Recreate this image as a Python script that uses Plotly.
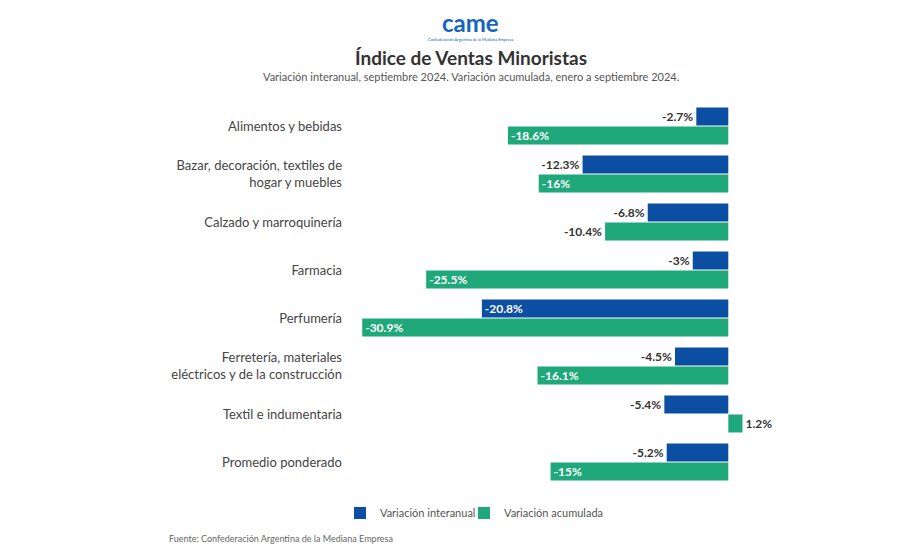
import plotly.graph_objects as go

categories = [
    "Alimentos y bebidas",
    "Bazar, decoración, textiles de<br>hogar y muebles",
    "Calzado y marroquinería",
    "Farmacia",
    "Perfumería",
    "Ferretería, materiales<br>eléctricos y de la construcción",
    "Textil e indumentaria",
    "Promedio ponderado",
]
interanual = [-2.7, -12.3, -6.8, -3.0, -20.8, -4.5, -5.4, -5.2]
acumulada = [-18.6, -16.0, -10.4, -25.5, -30.9, -16.1, 1.2, -15.0]

BLUE = "#0B4EA2"
GREEN = "#1FA97A"
FONT = "Lato"

# page has an 8px body offset; layout in reference-page pixels
OFF = 8
WIDTH, HEIGHT = 900, 554
L, T = 361 - OFF, 102 - OFF
PW, PH = 391, 384
R = WIDTH - L - PW
B = HEIGHT - T - PH


def px(x):
    return (x - OFF - L) / PW


def py(y):
    return (HEIGHT - B - (y - OFF)) / PH


def fmt(v):
    s = f"{v:.1f}".rstrip("0").rstrip(".")
    return s + "%"


def positions(vals):
    return ["inside" if abs(v) >= 15 else "outside" for v in vals]


fig = go.Figure()
for name, vals, col, lg in [("Variación interanual", interanual, BLUE, "legend"),
                            ("Variación acumulada", acumulada, GREEN, "legend2")]:
    fig.add_trace(go.Bar(
        y=categories, x=vals, orientation="h", name=name, legend=lg,
        marker=dict(color=col, line=dict(width=0)),
        text=[fmt(v) for v in vals],
        textposition=positions(vals),
        insidetextanchor="end",
        insidetextfont=dict(color="white", size=12, family=FONT, weight="bold"),
        outsidetextfont=dict(color="#333333", size=12, family=FONT, weight="bold"),
        cliponaxis=False,
        hoverinfo="skip",
    ))

leg_common = dict(orientation="h", xanchor="left", y=py(513), yanchor="middle",
                  font=dict(size=11, color="#555555"), itemwidth=30,
                  bgcolor="rgba(0,0,0,0)")
fig.update_layout(
    width=WIDTH, height=HEIGHT,
    margin=dict(l=L, r=R, t=T, b=B),
    paper_bgcolor="white", plot_bgcolor="white",
    barmode="group", bargap=0.21, bargroupgap=0.05,
    font=dict(family=FONT, color="#444444"),
    showlegend=True,
    legend=dict(x=px(340), **leg_common),
    legend2=dict(x=px(464), **leg_common),
    uniformtext=dict(mode="show", minsize=12),
    title=dict(text="<b>Índice de Ventas Minoristas</b>", x=(471 - OFF) / WIDTH,
               xanchor="center", y=1 - (58 - OFF) / HEIGHT, yanchor="middle",
               font=dict(size=19, color="#333333", family=FONT)),
)
fig.update_xaxes(range=[-31, 2], visible=False, showgrid=False, zeroline=False)
fig.update_yaxes(autorange="reversed", showgrid=False, zeroline=False, showline=False,
                 ticks="", tickfont=dict(size=13, color="#444444"),
                 ticklabelstandoff=18, automargin=False)

# Logo (text stand-in)
fig.add_annotation(text="<b>came</b>", x=px(470), y=py(22), xref="paper", yref="paper",
                   xanchor="center", yanchor="middle", showarrow=False,
                   font=dict(size=24, color="#1565C0", family=FONT))
fig.add_annotation(text="Confederación Argentina de la Mediana Empresa", x=px(470), y=py(39),
                   xref="paper", yref="paper", xanchor="center", yanchor="middle",
                   showarrow=False, font=dict(size=4, color="#1565C0", family=FONT))
# Subtitle
fig.add_annotation(text="Variación interanual, septiembre 2024. Variación acumulada, enero a septiembre 2024.",
                   x=px(471), y=py(77), xref="paper", yref="paper", xanchor="center",
                   yanchor="middle", showarrow=False,
                   font=dict(size=11, color="#555555"))
# Source
fig.add_annotation(text="Fuente: Confederación Argentina de la Mediana Empresa",
                   x=px(167), y=py(538), xref="paper", yref="paper",
                   xanchor="left", yanchor="middle", showarrow=False,
                   font=dict(size=9, color="#666666"))

fig.write_html("out.html")
